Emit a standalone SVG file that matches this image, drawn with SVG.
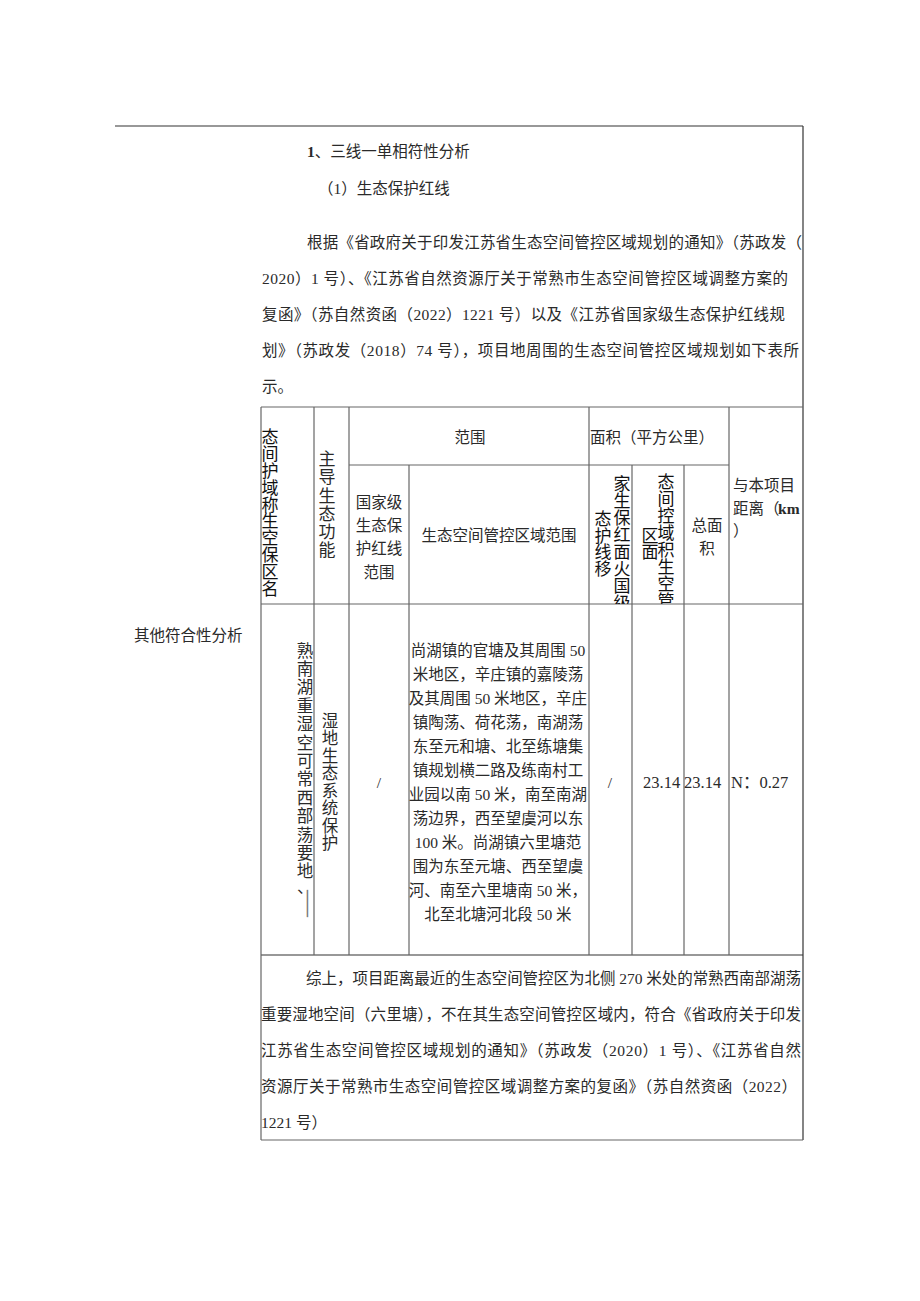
<svg xmlns="http://www.w3.org/2000/svg" width="920" height="1301" viewBox="0 0 920 1301">
<style>
.t{font-family:"Liberation Serif","Noto Sans CJK SC",serif;font-size:15.5px;fill:#2a2a2a}
.c{text-anchor:middle}
.v{font-family:"Noto Sans CJK SC",sans-serif;font-size:17px;fill:#111;writing-mode:vertical-rl}
.vs{font-family:"Noto Sans CJK SC",serif;font-size:16.5px;fill:#2a2a2a;writing-mode:vertical-rl}
.b{font-weight:bold}
.ln{stroke:#666;stroke-width:1.2;fill:none}
.fr{stroke:#333;stroke-width:1.2;fill:none}
</style>
<defs>
<clipPath id="c1"><rect x="589" y="465" width="43" height="139"/></clipPath>
<clipPath id="c2"><rect x="632" y="465" width="52" height="139"/></clipPath>
</defs>
<rect width="920" height="1301" fill="#fff"/>

<g id="connectors">
<line class="fr" x1="115" y1="126" x2="803" y2="126"/>
<line class="fr" x1="803" y1="126" x2="803" y2="1140"/>
<line class="ln" x1="261" y1="407" x2="803" y2="407"/>
<line class="ln" x1="349" y1="465" x2="729" y2="465"/>
<line class="ln" x1="261" y1="604" x2="803" y2="604"/>
<line class="fr" x1="261" y1="955" x2="803" y2="955"/>
<line class="ln" x1="261" y1="1140" x2="803" y2="1140"/>
<line class="ln" x1="261" y1="407" x2="261" y2="1140"/>
<line class="ln" x1="314" y1="407" x2="314" y2="955"/>
<line class="ln" x1="349" y1="407" x2="349" y2="955"/>
<line class="ln" x1="409" y1="465" x2="409" y2="955"/>
<line class="ln" x1="589" y1="407" x2="589" y2="955"/>
<line class="ln" x1="632" y1="465" x2="632" y2="955"/>
<line class="ln" x1="684" y1="465" x2="684" y2="955"/>
<line class="ln" x1="729" y1="407" x2="729" y2="955"/>
</g>

<g id="side-label">
<text class="t" x="134" y="641">其他符合性分析</text>
</g>

<g id="intro">
<text class="t" x="307" y="157"><tspan class="b">1</tspan>、三线一单相符性分析</text>
<text class="t" x="318" y="194">（1）生态保护红线</text>
<text class="t" x="307" y="248" textLength="495" lengthAdjust="spacing">根据《省政府关于印发江苏省生态空间管控区域规划的通知》（苏政发（</text>
<text class="t" x="262" y="284" textLength="526" lengthAdjust="spacing">2020）1 号）、《江苏省自然资源厅关于常熟市生态空间管控区域调整方案的</text>
<text class="t" x="262" y="320" textLength="523" lengthAdjust="spacing">复函》（苏自然资函（2022）1221 号）以及《江苏省国家级生态保护红线规</text>
<text class="t" x="262" y="356" textLength="537" lengthAdjust="spacing">划》（苏政发（2018）74 号），项目地周围的生态空间管控区域规划如下表所</text>
<text class="t" x="262" y="392">示。</text>
</g>

<g id="h-name">
<text class="v" x="270" y="428" style="letter-spacing:-0.1px">态间护域称生空保区名</text>
</g>
<g id="h-func">
<text class="vs" x="327" y="450" style="font-size:17px;letter-spacing:1.3px">主导生态功能</text>
</g>
<g id="h-range">
<text class="t c" x="470" y="443">范围</text>
</g>
<g id="h-area">
<text class="t" x="590" y="443">面积（平方公里）</text>
</g>
<g id="h-national">
<text class="t c" x="379" y="508">国家级</text>
<text class="t c" x="379" y="531">生态保</text>
<text class="t c" x="379" y="554">护红线</text>
<text class="t c" x="379" y="578">范围</text>
</g>
<g id="h-scope">
<text class="t c" x="499" y="541">生态空间管控区域范围</text>
</g>
<g id="h-area-national" clip-path="url(#c1)">
<text class="v" x="622" y="475">家生保红面火国级</text>
<text class="v" x="603" y="510" style="letter-spacing:-0.3px">态护线移</text>
</g>
<g id="h-area-space" clip-path="url(#c2)">
<text class="v" x="666" y="473">态间控域积生空管</text>
<text class="v" x="650" y="527" style="letter-spacing:-1px">区面</text>
</g>
<g id="h-total">
<text class="t c" x="707" y="531">总面</text>
<text class="t c" x="707" y="554">积</text>
</g>
<g id="h-distance">
<text class="t" x="733" y="491">与本项目</text>
<text class="t" x="733" y="514">距离（<tspan class="b" dx="-1.5">km</tspan></text>
<text class="t" x="733" y="536">）</text>
</g>

<g id="d-name">
<text class="vs" x="305" y="642" style="letter-spacing:1.9px">熟南湖重湿空可常西部荡要地</text>
<text class="t" x="297" y="893" style="font-size:16.5px">、</text>
<text class="t" transform="translate(301,890) rotate(90)" style="font-size:27px;fill:#777">—</text>
</g>
<g id="d-func">
<text class="vs" x="330" y="712" style="letter-spacing:1px">湿地生态系统保护</text>
</g>
<g id="d-national">
<text class="t c" x="379" y="788">/</text>
</g>
<g id="d-scope">
<text class="t c" x="498" y="656">尚湖镇的官塘及其周围 50</text>
<text class="t c" x="498" y="680">米地区，辛庄镇的嘉陵荡</text>
<text class="t c" x="498" y="704">及其周围 50 米地区，辛庄</text>
<text class="t c" x="498" y="728">镇陶荡、荷花荡，南湖荡</text>
<text class="t c" x="498" y="752">东至元和塘、北至练塘集</text>
<text class="t c" x="498" y="776">镇规划横二路及练南村工</text>
<text class="t c" x="498" y="800">业园以南 50 米，南至南湖</text>
<text class="t c" x="498" y="824">荡边界，西至望虞河以东</text>
<text class="t c" x="498" y="848">100 米。尚湖镇六里塘范</text>
<text class="t c" x="498" y="872">围为东至元塘、西至望虞</text>
<text class="t c" x="498" y="896">河、南至六里塘南 50 米，</text>
<text class="t c" x="498" y="920">北至北塘河北段 50 米</text>
</g>
<g id="d-area-national">
<text class="t c" x="610" y="788">/</text>
</g>
<g id="d-area-space">
<text class="t" x="643" y="788" style="font-size:16.5px">23.14</text>
</g>
<g id="d-total">
<text class="t" x="684" y="788" style="font-size:16.5px">23.14</text>
</g>
<g id="d-distance">
<text class="t" x="731" y="788" style="font-size:16.5px">N：0.27</text>
</g>

<g id="conclusion">
<text class="t" x="306" y="984" textLength="495" lengthAdjust="spacing">综上，项目距离最近的生态空间管控区为北侧 270 米处的常熟西南部湖荡</text>
<text class="t" x="261" y="1020" textLength="540" lengthAdjust="spacing">重要湿地空间（六里塘），不在其生态空间管控区域内，符合《省政府关于印发</text>
<text class="t" x="261" y="1056" textLength="540" lengthAdjust="spacing">江苏省生态空间管控区域规划的通知》（苏政发（2020）1 号）、《江苏省自然</text>
<text class="t" x="261" y="1092" textLength="536" lengthAdjust="spacing">资源厅关于常熟市生态空间管控区域调整方案的复函》（苏自然资函（2022）</text>
<text class="t" x="261" y="1128">1221 号）</text>
</g>
</svg>
